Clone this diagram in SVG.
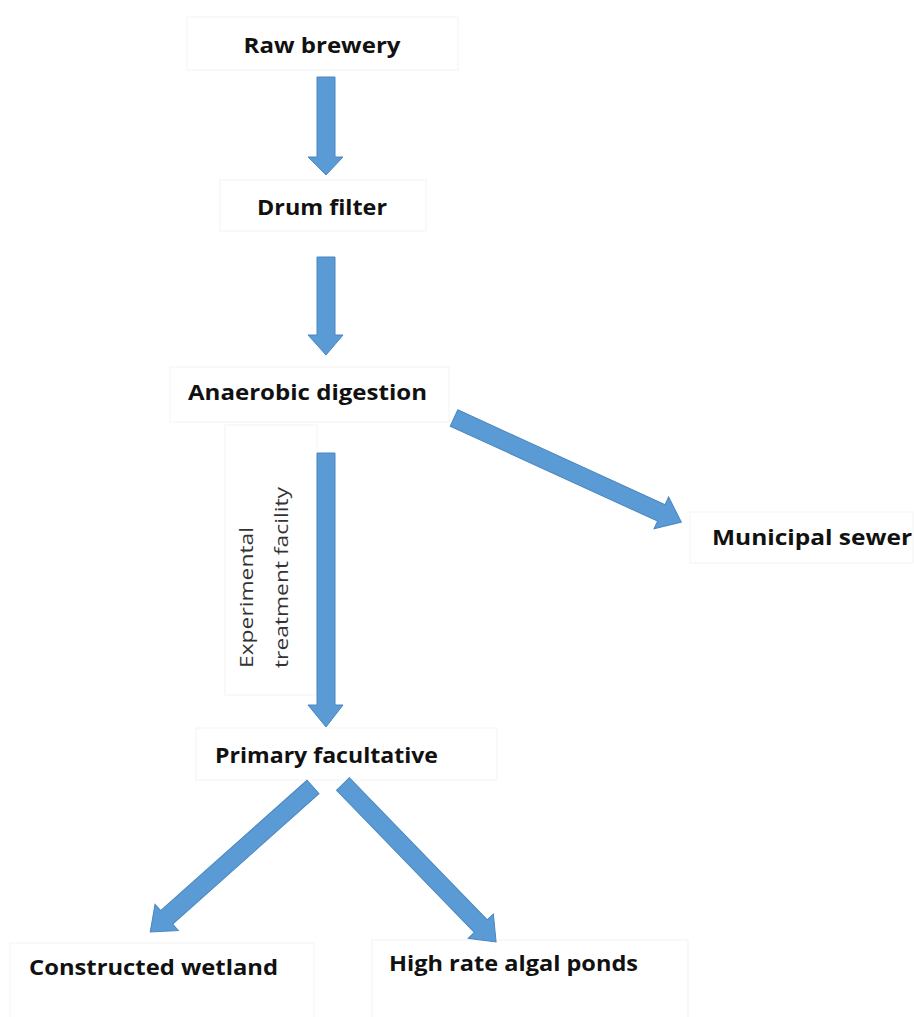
<svg xmlns="http://www.w3.org/2000/svg" width="914" height="1017" viewBox="0 0 914 1017">
<style>
.box{fill:#ffffff;stroke:#f3f3f3;stroke-width:1}
.lbl{font-family:"Open Sans","Liberation Sans",sans-serif;font-weight:bold;font-size:22px;fill:#111111;text-anchor:middle}
.vlbl{font-family:"Open Sans","Liberation Sans",sans-serif;font-size:19px;fill:#333333}
.arr{fill:#5b9bd5;stroke:#4a86c0;stroke-width:1}
</style>
<rect width="914" height="1017" fill="#ffffff"/>
<g id="n-raw"><rect class="box" x="187" y="17" width="271" height="53"/><text class="lbl" x="322" y="53" textLength="157" lengthAdjust="spacingAndGlyphs">Raw brewery</text></g>
<g id="n-drum"><rect class="box" x="220" y="180" width="206" height="51"/><text class="lbl" x="322" y="215" textLength="130" lengthAdjust="spacingAndGlyphs">Drum filter</text></g>
<g id="n-anaerobic"><rect class="box" x="170" y="367" width="279" height="55"/><text class="lbl" x="307.5" y="400" textLength="239" lengthAdjust="spacingAndGlyphs">Anaerobic digestion</text></g>
<g id="n-experimental"><rect class="box" x="225" y="425" width="92" height="270"/><text class="vlbl" transform="translate(253,668) rotate(-90)" x="0" y="0" textLength="141" lengthAdjust="spacingAndGlyphs">Experimental</text><text class="vlbl" transform="translate(288,668) rotate(-90)" x="0" y="0" textLength="181" lengthAdjust="spacingAndGlyphs">treatment facility</text></g>
<g id="n-sewer"><rect class="box" x="690" y="512" width="223" height="51"/><text class="lbl" x="812" y="545" textLength="200" lengthAdjust="spacingAndGlyphs">Municipal sewer</text></g>
<g id="n-primary"><rect class="box" x="196" y="728" width="301" height="52"/><text class="lbl" x="326.5" y="763" textLength="223" lengthAdjust="spacingAndGlyphs">Primary facultative</text></g>
<g id="n-wetland"><rect class="box" x="10" y="943" width="304" height="80"/><text class="lbl" x="153.5" y="975" textLength="249" lengthAdjust="spacingAndGlyphs">Constructed wetland</text></g>
<g id="n-algal"><rect class="box" x="372" y="940" width="316" height="83"/><text class="lbl" x="513.5" y="971" textLength="249" lengthAdjust="spacingAndGlyphs">High rate algal ponds</text></g>
<g id="connectors">
<path class="arr" d="M317,77 L335,77 L335,157 L343,157 L326,175 L308,157 L317,157 Z"/>
<path class="arr" d="M317,257 L335,257 L335,335 L343,335 L326,355 L308,335 L317,335 Z"/>
<path class="arr" d="M317,453 L335,453 L335,705 L343,705 L326,727 L308,705 L317,705 Z"/>
<path class="arr" transform="translate(454,418) rotate(24.6)" d="M0,-9 L228,-9 L228,-17.5 L250,0 L228,17.5 L228,9 L0,9 Z"/>
<path class="arr" transform="translate(313,787) rotate(138.3)" d="M0,-9 L196,-9 L196,-17.5 L218,0 L196,17.5 L196,9 L0,9 Z"/>
<path class="arr" transform="translate(343,784) rotate(45.9)" d="M0,-9 L198,-9 L198,-17.5 L220,0 L198,17.5 L198,9 L0,9 Z"/>
</g>
</svg>
